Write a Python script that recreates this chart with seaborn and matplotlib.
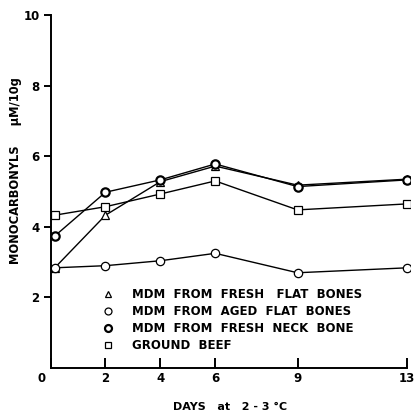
import matplotlib
matplotlib.use("Agg")
import matplotlib.pyplot as plt
from matplotlib.lines import Line2D
import seaborn as sns
import pandas as pd

days = [0.15, 2, 4, 6, 9, 13]
fresh_flat = [2.84, 4.33, 5.28, 5.72, 5.18, 5.35]
aged_flat = [2.84, 2.90, 3.04, 3.25, 2.70, 2.84]
fresh_neck = [3.74, 4.98, 5.33, 5.78, 5.14, 5.33]
ground_beef = [4.33, 4.57, 4.93, 5.30, 4.48, 4.65]

labels = ["MDM  FROM  FRESH   FLAT  BONES",
          "MDM  FROM  AGED  FLAT  BONES",
          "MDM  FROM  FRESH  NECK  BONE",
          "GROUND  BEEF"]
xticks = [0, 2, 4, 6, 9, 13]
xticklabels = ["0 ", "2", "4", "6", "9", "13"]
yticks = [2, 4, 6, 8, 10]

sns.set_style("white")
plt.rcParams["font.family"] = ["DejaVu Sans"]
plt.rcParams["font.weight"] = "bold"
plt.rcParams["text.color"] = "black"
plt.rcParams["axes.labelcolor"] = "black"
plt.rcParams["xtick.color"] = "black"
plt.rcParams["ytick.color"] = "black"

fig = plt.figure(figsize=(4.15, 4.15), dpi=100)
ax = fig.add_axes([0.122, 0.113, 0.866, 0.851])

series = [
    (fresh_flat, "^", 5.5, 0.9),
    (aged_flat, "o", 6.0, 0.9),
    (fresh_neck, "o", 6.0, 1.6),
    (ground_beef, "s", 5.5, 0.9),
]
for vals, mk, ms, mew in series:
    df = pd.DataFrame({"day": days, "val": vals})
    sns.lineplot(data=df, x="day", y="val", ax=ax, color="black", lw=1.0,
                 marker=mk, markersize=ms, markerfacecolor="white",
                 markeredgecolor="black", markeredgewidth=mew)

ax.set_xlim(0, 13.1)
ax.set_ylim(0, 10)
ax.set_xticks(xticks)
ax.set_xticklabels(xticklabels)
ax.set_yticks(yticks)
ax.set_yticklabels([str(t) for t in yticks])
for s in ["top", "right"]:
    ax.spines[s].set_visible(False)
for s in ["left", "bottom"]:
    ax.spines[s].set_linewidth(1.4)
    ax.spines[s].set_color("black")
ax.spines["bottom"].set_bounds(0, 13)
ax.tick_params(axis="x", direction="in", length=7, width=1.4, labelsize=8.5, pad=3, bottom=True)
ax.tick_params(axis="y", direction="out", length=5, width=1.4, labelsize=8.5, pad=3, left=True)
xl = ax.get_xticklabels()
xl[0].set_horizontalalignment("right")

ax.set_xlabel("DAYS   at   2 - 3 °C", fontsize=8, fontweight="bold", labelpad=12)
ax.set_ylabel("MONOCARBONYLS     \u00b5M/10g", fontsize=8.3, fontweight="bold")
ax.yaxis.set_label_coords(-0.08, 0.56)

handles = [Line2D([], [], ls="none", marker=mk, markersize=ms - 1.0, markerfacecolor="white",
                  markeredgecolor="black", markeredgewidth=mew)
           for _, mk, ms, mew in series]
ax.legend(handles, labels, loc="upper left", bbox_to_anchor=(0.13, 0.24), frameon=False,
          prop={"size": 8.5, "weight": "bold"}, handletextpad=1.5, labelspacing=0.33,
          handlelength=1.0, borderaxespad=0)

fig.savefig("out.png", dpi=100)
